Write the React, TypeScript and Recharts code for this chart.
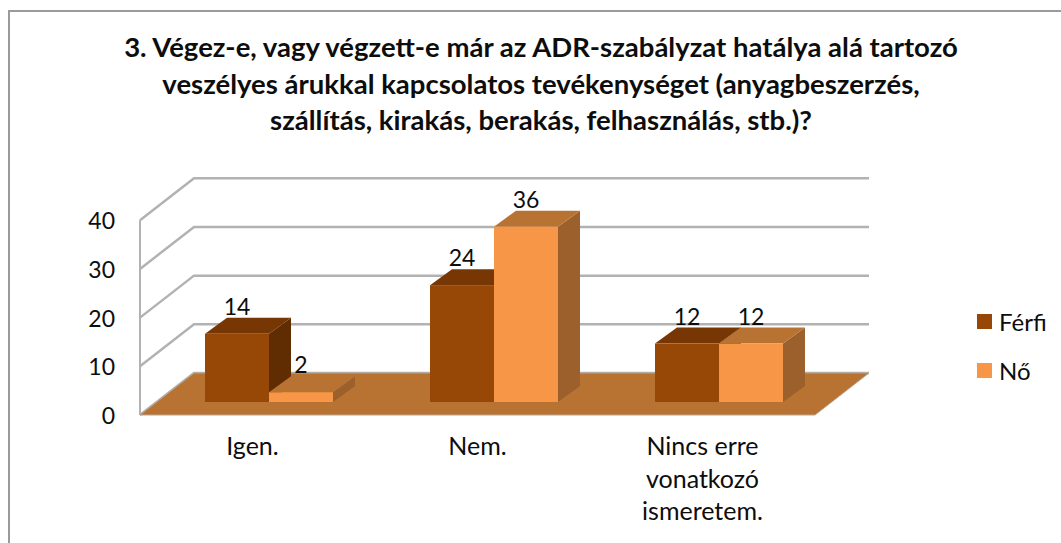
import { BarChart, Bar, XAxis, YAxis, Legend, LabelList, Customized } from "recharts";

const categories = ["Igen.", "Nem.", "Nincs erre vonatkozó ismeretem."];
const categoryLines: Record<string, string[]> = {
  "Igen.": ["Igen."],
  "Nem.": ["Nem."],
  "Nincs erre vonatkozó ismeretem.": ["Nincs erre", "vonatkozó", "ismeretem."],
};
const ferfiValues = [14, 24, 12];
const noValues = [2, 36, 12];
const yTicks = [0, 10, 20, 30, 40];
const titleLines = [
  "3. Végez-e, vagy végzett-e már az ADR-szabályzat hatálya alá tartozó",
  "veszélyes árukkal kapcsolatos tevékenységet (anyagbeszerzés,",
  "szállítás, kirakás, berakás, felhasználás, stb.)?",
];

const chartData = categories.map((name, i) => ({ name, ferfi: ferfiValues[i], no: noValues[i] }));

const WIDTH = 1061;
const HEIGHT = 543;
const FONT = "Lato, Carlito, Calibri, sans-serif";
const TEXT = "#0d0d0d";
const GRID = "#b2b2b2";

// plot front plane
const LEFT = 140;
const RIGHT = 815;
const TOP = 220.25;
const BOTTOM = 415;
const PX_PER_UNIT = (BOTTOM - TOP) / 40;
// depth of the floor, and where the bars stand on it
const WALL_DX = 54;
const WALL_DY = -42;
const BAR_DX = 16;
const BAR_DY = -13;
const BAR_DEPTH_X = 22;
const BAR_DEPTH_Y = -16;

const Background = () => (
  <g>
    <path d={`M9 ${HEIGHT}V11H${WIDTH}`} fill="none" stroke="#9a9a9a" strokeWidth={2} />
    {titleLines.map((line, i) => (
      <text
        key={i}
        x={541}
        y={57 + i * 36.5}
        textAnchor="middle"
        fontFamily={FONT}
        fontWeight={700}
        fontSize={27.5}
        fill={TEXT}
      >
        {line}
      </text>
    ))}
    {yTicks.map((t) => {
      const y = BOTTOM - t * PX_PER_UNIT;
      return (
        <polyline
          key={t}
          points={`${LEFT},${y} ${LEFT + WALL_DX},${y + WALL_DY} ${RIGHT + WALL_DX},${y + WALL_DY}`}
          fill="none"
          stroke={GRID}
          strokeWidth={2.5}
        />
      );
    })}
    <line x1={LEFT} y1={TOP} x2={LEFT} y2={BOTTOM} stroke={GRID} strokeWidth={2} />
    <polygon
      points={`${LEFT},${BOTTOM} ${LEFT + WALL_DX},${BOTTOM + WALL_DY} ${RIGHT + WALL_DX},${BOTTOM + WALL_DY} ${RIGHT},${BOTTOM}`}
      fill="#b87333"
      stroke="#b9a48f"
      strokeWidth={1}
    />
  </g>
);

// 3D box on top of the rectangle recharts computes for the bar
const makeBox = (topColor: string, sideColor: string) => (props: any) => {
  const { x, y, width, height, fill } = props;
  const l = x + BAR_DX;
  const r = l + width;
  const t = y + BAR_DY;
  const b = t + height;
  return (
    <g>
      <polygon
        points={`${r},${t} ${r + BAR_DEPTH_X},${t + BAR_DEPTH_Y} ${r + BAR_DEPTH_X},${b + BAR_DEPTH_Y} ${r},${b}`}
        fill={sideColor}
      />
      <polygon
        points={`${l},${t} ${l + BAR_DEPTH_X},${t + BAR_DEPTH_Y} ${r + BAR_DEPTH_X},${t + BAR_DEPTH_Y} ${r},${t}`}
        fill={topColor}
      />
      <rect x={l} y={t} width={width} height={height} fill={fill} />
    </g>
  );
};

const ValueLabel = (props: any) => {
  const { x, y, width, value } = props;
  return (
    <text
      x={x + BAR_DX + width / 2}
      y={y + BAR_DY - 19}
      textAnchor="middle"
      fontFamily={FONT}
      fontSize={23}
      fill={TEXT}
    >
      {value}
    </text>
  );
};

const CategoryTick = (props: any) => {
  const { x, payload } = props;
  const lines = categoryLines[payload.value] || [payload.value];
  return (
    <g>
      {lines.map((line, i) => (
        <text key={i} x={x} y={455 + i * 32.5} textAnchor="middle" fontFamily={FONT} fontSize={25} fill={TEXT}>
          {line}
        </text>
      ))}
    </g>
  );
};

const LegendContent = (props: any) => (
  <div>
    {(props.payload || []).map((item: any) => (
      <div
        key={item.value}
        style={{ display: "flex", alignItems: "center", height: 49, fontFamily: FONT, fontSize: 24, color: TEXT }}
      >
        <span style={{ width: 15, height: 15, background: item.color, marginRight: 7 }} />
        {item.value}
      </div>
    ))}
  </div>
);

const ferfiShape = makeBox("#763705", "#602d03");
const noShape = makeBox("#b87333", "#9c602c");

export default function App() {
  return (
    <div style={{ position: "absolute", left: 0, top: 0 }}>
      <BarChart
        width={WIDTH}
        height={HEIGHT}
        data={chartData}
        barSize={64}
        barGap={0}
        margin={{ left: 0, right: WIDTH - RIGHT, top: TOP, bottom: 0 }}
      >
        <Customized component={Background} />
        <XAxis dataKey="name" axisLine={false} tickLine={false} tick={CategoryTick} interval={0} height={HEIGHT - BOTTOM} />
        <YAxis
          domain={[0, 40]}
          ticks={yTicks}
          width={LEFT}
          axisLine={false}
          tickLine={false}
          tickMargin={19}
          tick={{ fontFamily: FONT, fontSize: 23, fill: TEXT, dy: 1 }}
        />
        <Legend
          layout="vertical"
          align="center"
          verticalAlign="middle"
          content={LegendContent}
          wrapperStyle={{ left: 977, top: 297, width: 84 }}
        />
        <Bar dataKey="ferfi" name="Férfi" fill="#974706" shape={ferfiShape} isAnimationActive={false}>
          <LabelList dataKey="ferfi" content={ValueLabel} />
        </Bar>
        <Bar dataKey="no" name="Nő" fill="#f79646" shape={noShape} isAnimationActive={false}>
          <LabelList dataKey="no" content={ValueLabel} />
        </Bar>
      </BarChart>
    </div>
  );
}
